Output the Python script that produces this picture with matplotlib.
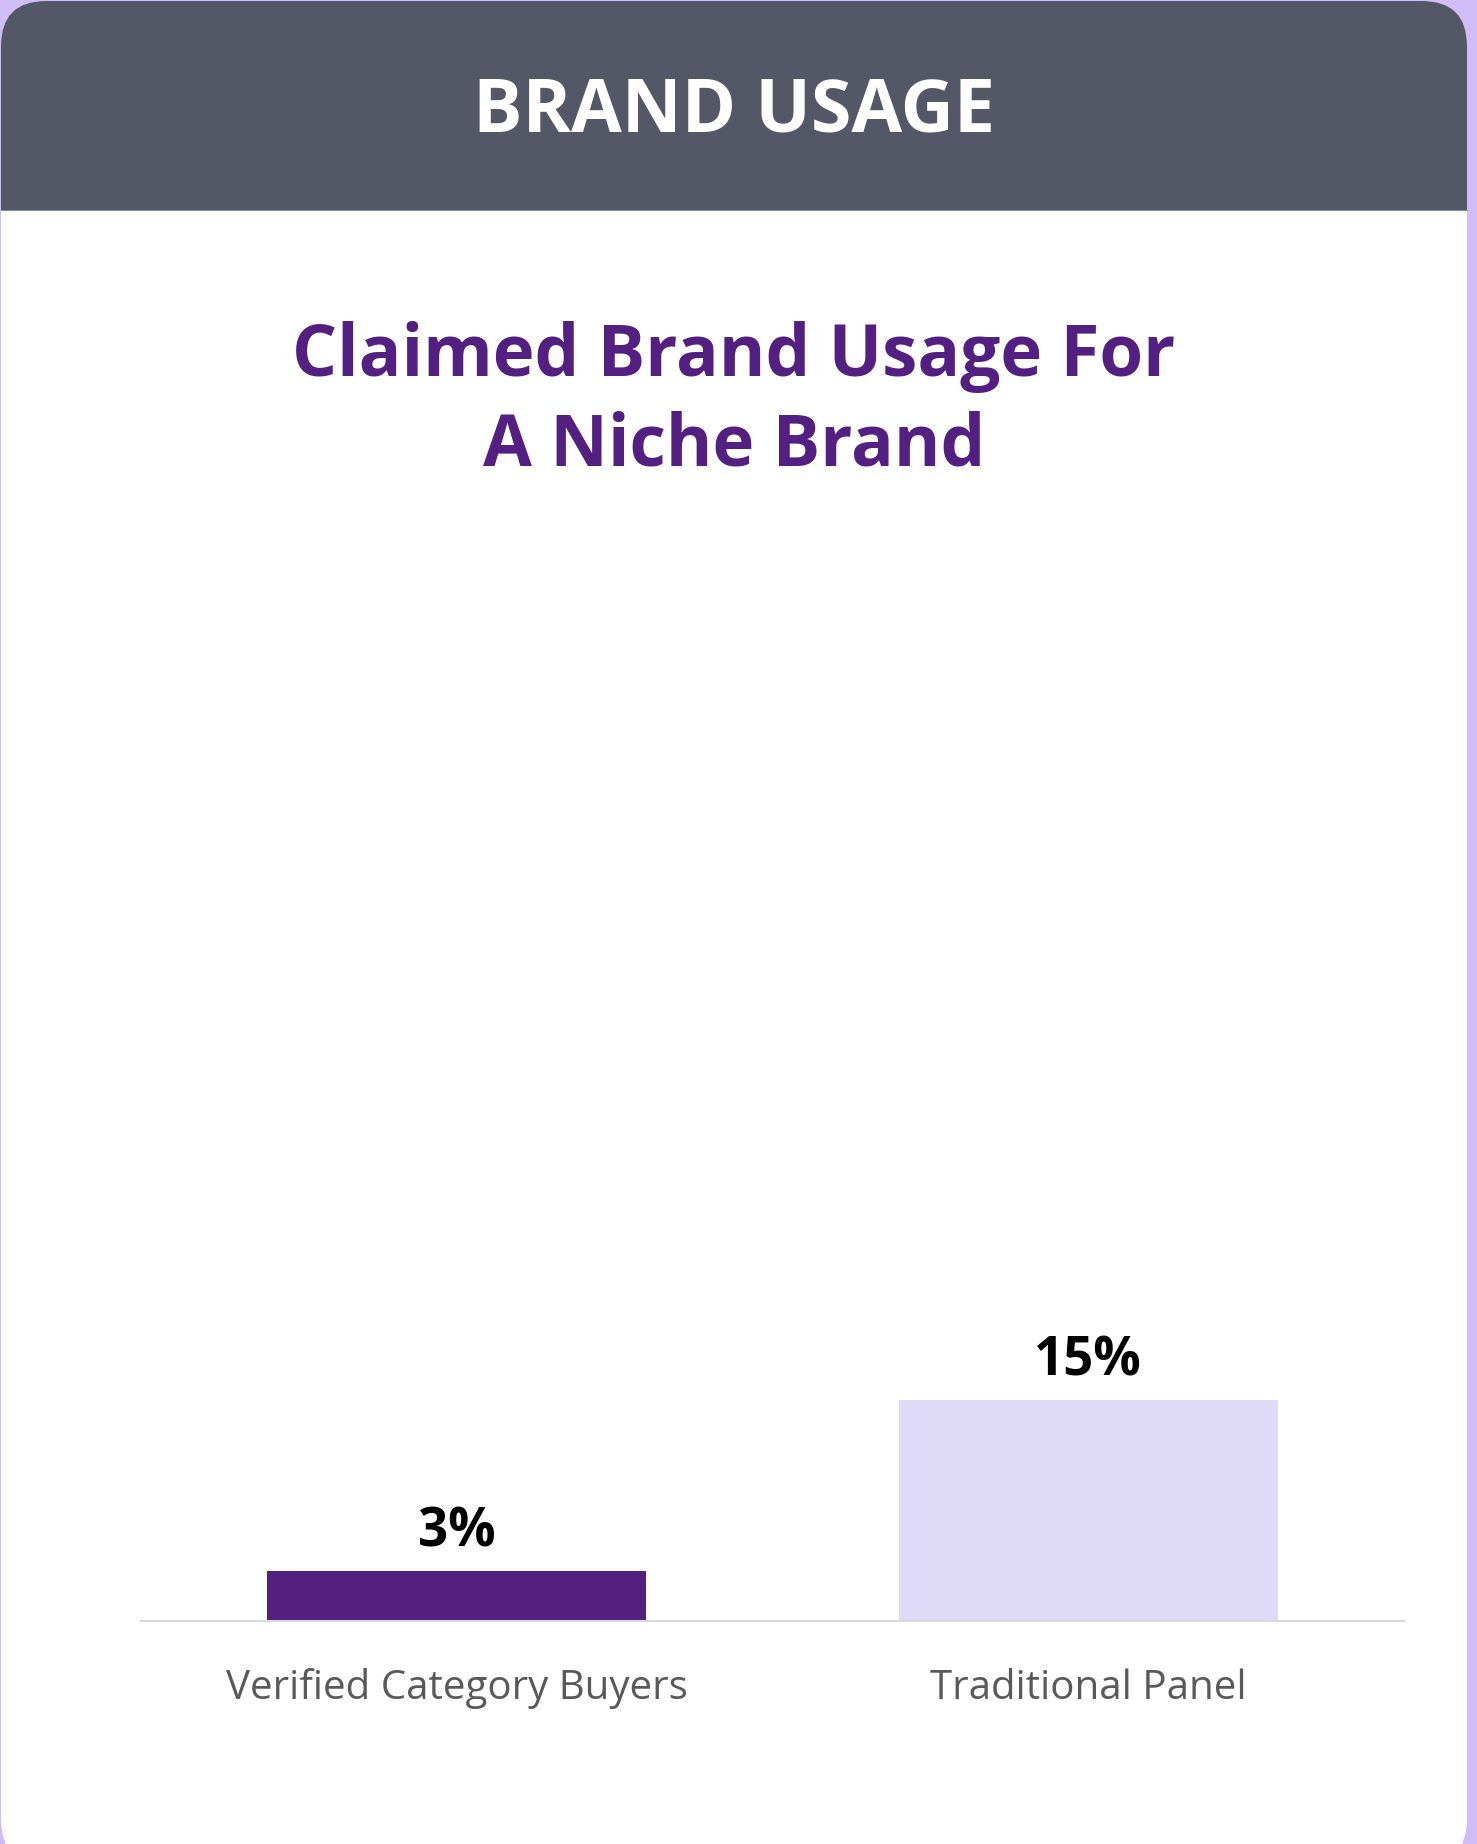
"""Brand usage card: claimed usage of a niche brand, two bars."""

import matplotlib.pyplot as plt
from matplotlib.patches import FancyBboxPatch, Rectangle

W, H = 1477, 1844

categories = ["Verified Category Buyers", "Traditional Panel"]
usage_pct = [3.4, 15.0]
value_labels = ["3%", "15%"]

COLORS = {
    "page": "#D0BCF6",
    "header": "#535766",
    "purple": "#531F80",
    "lavender": "#DEDAF8",
    "axis": "#D9D9D9",
    "tick": "#595959",
}

FONT = "Open Sans"

fig = plt.figure(figsize=(W / 100, H / 100), dpi=100)
fig.patch.set_facecolor(COLORS["page"])

# canvas in pixel coordinates for the card and the header
bg = fig.add_axes([0, 0, 1, 1])
bg.set_xlim(0, W)
bg.set_ylim(H, 0)
bg.axis("off")

card = FancyBboxPatch(
    (46, 46), 1467 - 46 - 45, H + 20 - 46 - 45,
    boxstyle="round,pad=45",
    facecolor="white", edgecolor="none",
)
bg.add_patch(card)
header = Rectangle((0, 0), W, 210, facecolor=COLORS["header"], edgecolor="none")
bg.add_patch(header)
header.set_clip_path(card)
bg.plot([1, 1467], [210, 210], color="#8A8D99", linewidth=0.8)

bg.text(734, 112, "BRAND USAGE", ha="center", va="center",
        color="white", fontsize=53, fontweight="bold", family=FONT)
bg.text(734, 376, "Claimed Brand Usage For", ha="center", va="baseline",
        color=COLORS["purple"], fontsize=51, fontweight="bold", family=FONT)
bg.text(734, 465, "A Niche Brand", ha="center", va="baseline",
        color=COLORS["purple"], fontsize=51, fontweight="bold", family=FONT)

# bar chart
px_per_unit = 221.5 / 15.0
ymax = 60
ax_left, ax_right = 141, 1404
ax_base = 1621
ax_h = ymax * px_per_unit
ax = fig.add_axes([ax_left / W, (H - ax_base) / H,
                   (ax_right - ax_left) / W, ax_h / H])
ax.set_facecolor("none")

x = range(len(categories))
bars = ax.bar(x, usage_pct, width=0.6,
              color=[COLORS["purple"], COLORS["lavender"]])
ax.bar_label(bars, labels=value_labels, padding=8,
             fontsize=38, fontweight="bold", color="black", family=FONT)

ax.set_xlim(-0.5, 1.5)
ax.set_ylim(0, ymax)
ax.set_xticks(list(x))
ax.set_xticklabels(categories, fontsize=29, color=COLORS["tick"], family=FONT)
ax.tick_params(axis="x", length=0, pad=34)
ax.set_yticks([])
for side in ["top", "right", "left"]:
    ax.spines[side].set_visible(False)
ax.spines["bottom"].set_color(COLORS["axis"])
ax.spines["bottom"].set_linewidth(1.5)

fig.savefig("out.png", dpi=100, facecolor=fig.get_facecolor())
